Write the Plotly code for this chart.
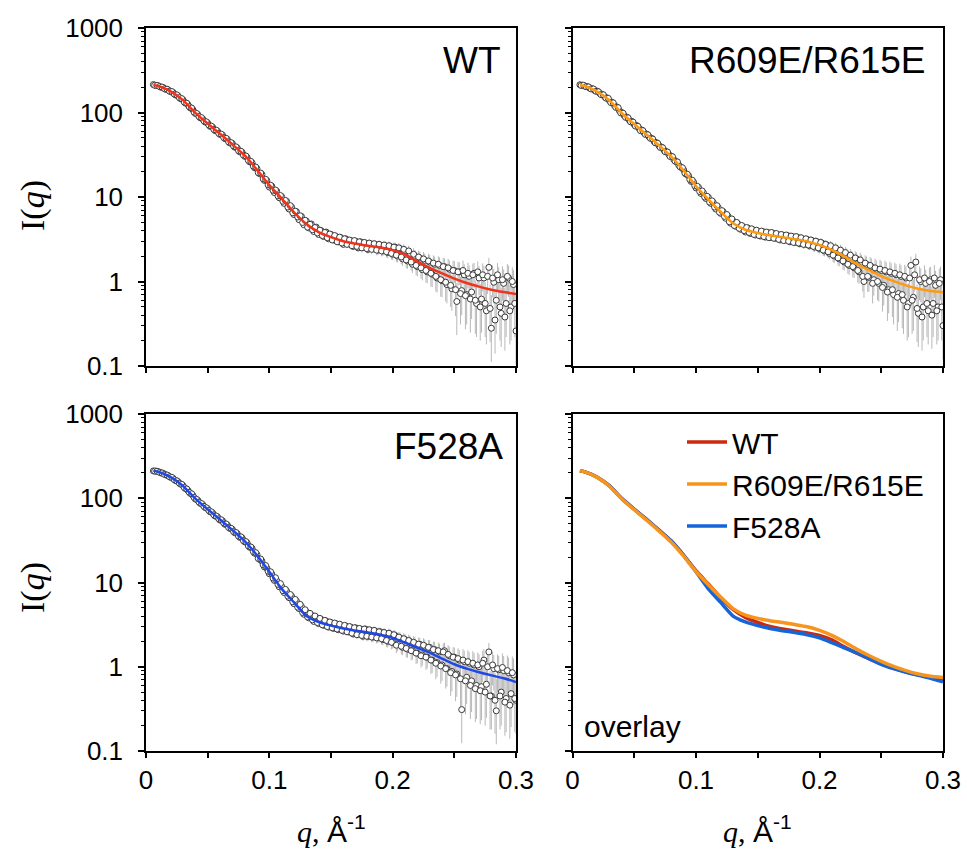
import plotly.graph_objects as go
from plotly.subplots import make_subplots

# ---------------- data ----------------
Q_FIT = [0.006, 0.01, 0.02, 0.03, 0.04, 0.05, 0.06, 0.07, 0.08, 0.09, 0.10,
         0.11, 0.12, 0.13, 0.14, 0.15, 0.16, 0.17, 0.18, 0.19, 0.20,
         0.21, 0.22, 0.23, 0.24, 0.25, 0.26, 0.27, 0.28, 0.29, 0.30]
WT_FIT = [212, 206, 178, 140, 99, 74, 56, 42, 31, 21, 13.8,
          9.6, 6.6, 4.8, 3.85, 3.35, 3.0, 2.8, 2.65, 2.52, 2.35,
          2.08, 1.72, 1.45, 1.25, 1.08, 0.96, 0.87, 0.80, 0.75, 0.71]
R609E_FIT = [212, 206, 177, 139, 98, 73, 55, 41, 30, 20.5, 13.5,
             9.4, 6.7, 4.9, 4.1, 3.75, 3.52, 3.35, 3.17, 2.98, 2.7,
             2.36, 1.98, 1.62, 1.36, 1.16, 1.01, 0.90, 0.82, 0.77, 0.745]
F528A_FIT = [212, 206, 178, 140, 99, 74, 56, 42, 31, 21, 13.4,
             8.4, 5.8, 4.0, 3.4, 3.08, 2.85, 2.68, 2.55, 2.4, 2.2,
             1.93, 1.68, 1.47, 1.25, 1.07, 0.95, 0.86, 0.79, 0.73, 0.66]

# measured points on the even q grid
Q_EVEN = [
    0.006, 0.008, 0.010, 0.012, 0.014, 0.016, 0.018, 0.020, 0.022, 0.024,
    0.026, 0.028, 0.030, 0.032, 0.034, 0.036, 0.038, 0.040, 0.042, 0.044,
    0.046, 0.048, 0.050, 0.052, 0.054, 0.056, 0.058, 0.060, 0.062, 0.064,
    0.066, 0.068, 0.070, 0.072, 0.074, 0.076, 0.078, 0.080, 0.082, 0.084,
    0.086, 0.088, 0.090, 0.092, 0.094, 0.096, 0.098, 0.100, 0.102, 0.104,
    0.106, 0.108, 0.110, 0.112, 0.114, 0.116, 0.118, 0.120, 0.122, 0.124,
    0.126, 0.128, 0.130, 0.132, 0.134, 0.136, 0.138, 0.140, 0.142, 0.144,
    0.146, 0.148, 0.150, 0.152, 0.154, 0.156, 0.158, 0.160, 0.162, 0.164,
    0.166, 0.168, 0.170, 0.172, 0.174, 0.176, 0.178, 0.180, 0.182, 0.184,
    0.186, 0.188, 0.190, 0.192, 0.194, 0.196, 0.198, 0.200, 0.202, 0.204,
    0.206, 0.208, 0.210, 0.212, 0.214, 0.216, 0.218, 0.220, 0.222, 0.224,
    0.226, 0.228, 0.230, 0.232, 0.234, 0.236, 0.238, 0.240, 0.242, 0.244,
    0.246, 0.248, 0.250, 0.252, 0.254, 0.256, 0.258, 0.260, 0.262, 0.264,
    0.266, 0.268, 0.270, 0.272, 0.274, 0.276, 0.278, 0.280, 0.282, 0.284,
    0.286, 0.288, 0.290, 0.292, 0.294, 0.296, 0.298, 0.300]
# measured points on the odd q grid
Q_ODD = [
    0.007, 0.009, 0.011, 0.013, 0.015, 0.017, 0.019, 0.021, 0.023, 0.025,
    0.027, 0.029, 0.031, 0.033, 0.035, 0.037, 0.039, 0.041, 0.043, 0.045,
    0.047, 0.049, 0.051, 0.053, 0.055, 0.057, 0.059, 0.061, 0.063, 0.065,
    0.067, 0.069, 0.071, 0.073, 0.075, 0.077, 0.079, 0.081, 0.083, 0.085,
    0.087, 0.089, 0.091, 0.093, 0.095, 0.097, 0.099, 0.101, 0.103, 0.105,
    0.107, 0.109, 0.111, 0.113, 0.115, 0.117, 0.119, 0.121, 0.123, 0.125,
    0.127, 0.129, 0.131, 0.133, 0.135, 0.137, 0.139, 0.141, 0.143, 0.145,
    0.147, 0.149, 0.151, 0.153, 0.155, 0.157, 0.159, 0.161, 0.163, 0.165,
    0.167, 0.169, 0.171, 0.173, 0.175, 0.177, 0.179, 0.181, 0.183, 0.185,
    0.187, 0.189, 0.191, 0.193, 0.195, 0.197, 0.199, 0.201, 0.203, 0.205,
    0.207, 0.209, 0.211, 0.213, 0.215, 0.217, 0.219, 0.221, 0.223, 0.225,
    0.227, 0.229, 0.231, 0.233, 0.235, 0.237, 0.239, 0.241, 0.243, 0.245,
    0.247, 0.249, 0.251, 0.253, 0.255, 0.257, 0.259, 0.261, 0.263, 0.265,
    0.267, 0.269, 0.271, 0.273, 0.275, 0.277, 0.279, 0.281, 0.283, 0.285,
    0.287, 0.289, 0.291, 0.293, 0.295, 0.297, 0.299]

WT_EVEN = [
    214, 209, 207, 199, 197, 188, 185, 176, 172, 161,
    157, 146, 141, 129, 124, 113, 108, 97.5, 94.5, 86.5,
    84, 77, 75, 68.5, 67, 61, 60, 55, 54, 49,
    48, 43.5, 43, 38.8, 38, 34.2, 33.7, 30.3, 29.4, 26.1,
    25.4, 22.2, 21.6, 18.9, 18.5, 15.7, 15.6, 13.1, 13.4, 11.3,
    11.7, 9.8, 10.1, 8.4, 8.9, 7.2, 7.6, 6.2, 6.7, 5.4,
    5.9, 4.7, 5.2, 4.3, 4.8, 3.9, 4.4, 3.6, 4.0, 3.4,
    3.85, 3.2, 3.6, 3.1, 3.4, 2.95, 3.3, 2.75, 3.2, 2.8,
    3.05, 2.6, 3.0, 2.5, 2.95, 2.55, 2.85, 2.4, 2.8, 2.45,
    2.75, 2.35, 2.7, 2.3, 2.65, 2.2, 2.6, 2.1, 2.55, 2.0,
    2.45, 1.85, 2.3, 1.75, 2.15, 1.6, 2.0, 1.5, 1.9, 1.38,
    1.78, 1.3, 1.7, 1.22, 1.6, 1.1, 1.55, 1.02, 1.5, 0.92,
    1.4, 0.82, 1.35, 0.58, 1.3, 0.78, 1.2, 0.7, 1.15, 0.75,
    1.25, 0.55, 1.1, 0.62, 1.1, 0.45, 1.47, 0.28, 0.98, 0.6,
    1.05, 0.42, 0.95, 0.55, 1.1, 0.5, 0.92, 0.26]
WT_ODD = [
    210, 209, 203, 200, 191, 189, 179, 177, 165, 162,
    150, 146, 133, 129, 117, 113, 101, 97.5, 89.5, 87,
    79.5, 77.5, 71, 69, 63, 61.8, 56.5, 55.5, 50.5, 49.5,
    44.9, 44, 40.1, 39.2, 35.4, 34.8, 31.3, 30.6, 27.1, 26.4,
    23.2, 22.6, 19.4, 19.2, 16.4, 16.2, 13.9, 13.8, 12.0, 12.1,
    10.3, 10.4, 8.9, 9.1, 7.6, 7.9, 6.5, 6.8, 5.8, 6.0,
    5.0, 5.3, 4.4, 4.75, 4.1, 4.35, 3.75, 4.05, 3.5, 3.8,
    3.3, 3.65, 3.1, 3.5, 2.95, 3.35, 2.85, 3.2, 2.75, 3.1,
    2.65, 3.05, 2.6, 2.95, 2.5, 2.9, 2.45, 2.85, 2.4, 2.8,
    2.35, 2.75, 2.3, 2.7, 2.25, 2.65, 2.15, 2.55, 2.05, 2.5,
    1.95, 2.4, 1.8, 2.3, 1.7, 2.1, 1.55, 1.95, 1.45, 1.85,
    1.35, 1.75, 1.25, 1.65, 1.15, 1.6, 1.05, 1.5, 0.98, 1.45,
    0.9, 1.35, 0.8, 1.3, 0.72, 1.35, 0.68, 1.25, 0.62, 1.2,
    0.6, 1.3, 0.5, 1.2, 0.55, 1.15, 0.48, 1.1, 0.35, 1.2,
    0.5, 1.05, 0.38, 1.15, 0.45, 1.0, 0.55]

R609E_EVEN = [
    213, 210, 205, 202, 194, 191, 182, 179, 169, 164,
    154, 149, 138, 132, 121, 116, 105, 99.5, 91.5, 88,
    81, 78.5, 72, 70, 64.5, 62, 57.5, 55.5, 51.5, 49.5,
    45.5, 44, 40.5, 39, 36, 34.4, 31.8, 30.3, 27.8, 26.2,
    23.9, 22.4, 20.9, 18.6, 17.8, 15.3, 15.0, 12.8, 13.0, 11.0,
    11.2, 9.6, 9.9, 8.4, 8.6, 7.2, 7.5, 6.4, 6.7, 5.6,
    5.9, 4.9, 5.2, 4.5, 4.8, 4.15, 4.45, 3.85, 4.3, 3.7,
    4.1, 3.55, 3.95, 3.45, 3.9, 3.35, 3.8, 3.3, 3.75, 3.25,
    3.6, 3.1, 3.55, 3.1, 3.5, 2.95, 3.4, 2.9, 3.35, 2.8,
    3.2, 2.75, 3.15, 2.65, 3.05, 2.55, 2.95, 2.45, 2.85, 2.3,
    2.7, 2.15, 2.55, 2.0, 2.4, 1.85, 2.25, 1.7, 2.1, 1.55,
    1.95, 1.45, 1.85, 1.3, 1.7, 1.0, 1.6, 1.12, 1.5, 1.05,
    1.4, 0.95, 1.35, 0.9, 1.3, 0.8, 1.25, 0.7, 1.2, 0.72,
    1.15, 0.6, 1.1, 0.55, 1.55, 0.65, 1.7, 0.42, 1.0, 0.5,
    0.95, 0.45, 1.05, 0.55, 0.9, 0.5, 1.05, 0.3]
R609E_ODD = [
    209, 210, 202, 201, 190, 190, 178, 176, 163, 162,
    148, 147, 131, 130, 115, 114, 99, 98, 87.5, 86.5,
    77.5, 77, 69, 68.5, 61, 61, 55, 54.5, 49.5, 48.5,
    43.7, 43.2, 38.6, 38.3, 34.3, 34, 30.2, 30, 26.6, 26,
    22.8, 22.2, 19.2, 18.6, 16.1, 15.8, 13.6, 13.4, 11.6, 11.8,
    10.0, 10.2, 8.7, 9.0, 7.6, 7.9, 6.6, 6.9, 5.9, 6.2,
    5.1, 5.5, 4.6, 5.0, 4.25, 4.6, 4.0, 4.35, 3.8, 4.2,
    3.6, 4.05, 3.5, 3.95, 3.4, 3.85, 3.3, 3.8, 3.25, 3.7,
    3.15, 3.6, 3.05, 3.55, 3.0, 3.45, 2.9, 3.4, 2.85, 3.3,
    2.75, 3.2, 2.7, 3.1, 2.6, 3.0, 2.5, 2.9, 2.35, 2.75,
    2.25, 2.65, 2.05, 2.5, 1.9, 2.35, 1.75, 2.2, 1.6, 2.05,
    1.5, 1.9, 1.35, 1.8, 1.15, 1.65, 1.15, 1.55, 0.95, 1.45,
    1.0, 1.4, 0.85, 1.35, 0.75, 1.3, 0.8, 1.25, 0.65, 1.2,
    0.7, 1.15, 0.5, 1.1, 0.6, 1.2, 0.48, 1.05, 0.38, 1.1,
    0.55, 1.0, 0.4, 1.1, 0.45, 0.95, 0.5]

F528A_EVEN = [
    211, 210, 207, 200, 197, 189, 185, 177, 172, 162,
    157, 147, 141, 130, 124, 114, 108, 98, 94.5, 87,
    84, 77.5, 75, 69, 67, 61.5, 60, 55, 54, 49,
    48, 43.8, 42.8, 38.9, 38, 34.3, 33.7, 30.4, 29.5, 26.2,
    25.4, 22.3, 21.4, 18.8, 17.9, 15.3, 14.8, 12.7, 12.6, 10.6,
    10.5, 8.9, 9.0, 7.6, 7.9, 6.6, 6.9, 5.6, 6.0, 4.9,
    5.2, 4.2, 4.5, 3.8, 4.1, 3.45, 3.85, 3.25, 3.65, 3.1,
    3.5, 2.95, 3.35, 2.85, 3.25, 2.75, 3.1, 2.65, 3.05, 2.6,
    2.95, 2.45, 2.9, 2.45, 2.8, 2.3, 2.8, 2.3, 2.7, 2.25,
    2.65, 2.2, 2.6, 2.1, 2.5, 2.0, 2.45, 1.95, 2.35, 1.85,
    2.2, 1.7, 2.1, 1.62, 2.0, 1.55, 1.9, 1.45, 1.85, 1.38,
    1.75, 1.3, 1.7, 1.2, 1.6, 1.12, 1.5, 1.05, 1.55, 0.95,
    1.35, 0.88, 1.3, 0.82, 1.2, 0.31, 1.15, 0.75, 1.1, 0.68,
    1.05, 0.6, 1.0, 0.58, 1.2, 0.62, 1.5, 0.45, 0.95, 0.3,
    0.92, 0.5, 0.9, 0.42, 0.85, 0.48, 0.8, 0.4]
F528A_ODD = [
    210, 209, 203, 200, 192, 189, 180, 177, 166, 161,
    151, 146, 134, 129, 118, 113, 102, 97, 90, 86.5,
    80, 77, 71.5, 69, 63.5, 61.5, 57, 55.5, 51, 49.5,
    45, 44, 40.2, 39.2, 35.5, 34.8, 31.4, 30.6, 27.2, 26.4,
    23.3, 22.6, 19.3, 19.0, 16.2, 15.9, 13.6, 13.4, 11.3, 11.4,
    9.5, 9.7, 8.0, 8.3, 6.9, 7.2, 5.9, 6.3, 5.1, 5.5,
    4.4, 4.75, 3.9, 4.3, 3.6, 4.0, 3.35, 3.75, 3.15, 3.55,
    3.0, 3.4, 2.9, 3.3, 2.8, 3.2, 2.7, 3.1, 2.6, 3.0,
    2.5, 2.9, 2.4, 2.85, 2.35, 2.8, 2.3, 2.75, 2.25, 2.7,
    2.2, 2.6, 2.15, 2.55, 2.05, 2.5, 1.95, 2.4, 1.8, 2.25,
    1.75, 2.15, 1.65, 2.05, 1.55, 1.95, 1.45, 1.85, 1.35, 1.8,
    1.3, 1.7, 1.2, 1.6, 1.1, 1.55, 1.02, 1.5, 0.95, 1.4,
    0.85, 1.3, 0.8, 1.25, 0.72, 1.2, 0.68, 1.15, 0.6, 1.1,
    0.55, 1.05, 0.52, 1.1, 0.5, 1.0, 0.45, 1.05, 0.4, 0.95,
    0.45, 0.98, 0.38, 0.9, 0.35, 0.85, 0.42]

# measurement uncertainty (absolute) on each grid
SIGMA_EVEN = [
    2.0, 2.0, 1.9, 1.9, 1.8, 1.8, 1.7, 1.7, 1.6, 1.5,
    1.5, 1.4, 1.3, 1.3, 1.2, 1.1, 1.0, 1.0, 0.9, 0.85,
    0.8, 0.75, 0.7, 0.65, 0.6, 0.57, 0.54, 0.5, 0.47, 0.45,
    0.42, 0.4, 0.38, 0.36, 0.34, 0.32, 0.3, 0.29, 0.28, 0.27,
    0.26, 0.25, 0.2, 0.22, 0.2, 0.21, 0.19, 0.2, 0.18, 0.19,
    0.17, 0.18, 0.17, 0.18, 0.16, 0.17, 0.16, 0.17, 0.16, 0.17,
    0.16, 0.17, 0.17, 0.17, 0.18, 0.17, 0.19, 0.18, 0.19, 0.18,
    0.21, 0.2, 0.22, 0.21, 0.23, 0.22, 0.24, 0.23, 0.25, 0.24,
    0.26, 0.25, 0.27, 0.26, 0.27, 0.26, 0.28, 0.27, 0.29, 0.28,
    0.3, 0.29, 0.31, 0.3, 0.32, 0.31, 0.32, 0.31, 0.33, 0.32,
    0.34, 0.33, 0.35, 0.34, 0.35, 0.34, 0.36, 0.35, 0.36, 0.35,
    0.36, 0.35, 0.37, 0.36, 0.37, 0.36, 0.38, 0.37, 0.38, 0.37,
    0.38, 0.37, 0.39, 0.38, 0.39, 0.38, 0.4, 0.39, 0.4, 0.39,
    0.41, 0.4, 0.41, 0.4, 0.42, 0.41, 0.42, 0.41, 0.43, 0.42,
    0.43, 0.42, 0.44, 0.43, 0.44, 0.43, 0.45, 0.45]
SIGMA_ODD = [
    2.0, 1.9, 1.9, 1.8, 1.8, 1.7, 1.7, 1.6, 1.6, 1.5,
    1.4, 1.4, 1.3, 1.2, 1.1, 1.1, 1.0, 0.95, 0.9, 0.8,
    0.78, 0.72, 0.68, 0.62, 0.58, 0.55, 0.52, 0.48, 0.46, 0.43,
    0.41, 0.39, 0.37, 0.35, 0.33, 0.31, 0.3, 0.28, 0.27, 0.26,
    0.25, 0.21, 0.21, 0.2, 0.2, 0.19, 0.19, 0.19, 0.18, 0.18,
    0.18, 0.17, 0.17, 0.17, 0.16, 0.16, 0.16, 0.16, 0.17, 0.16,
    0.17, 0.17, 0.18, 0.17, 0.18, 0.18, 0.19, 0.19, 0.2, 0.2,
    0.21, 0.22, 0.22, 0.23, 0.23, 0.24, 0.24, 0.25, 0.25, 0.26,
    0.26, 0.27, 0.27, 0.28, 0.28, 0.29, 0.29, 0.3, 0.3, 0.31,
    0.31, 0.32, 0.32, 0.33, 0.33, 0.34, 0.34, 0.35, 0.35, 0.35,
    0.35, 0.36, 0.36, 0.36, 0.36, 0.37, 0.37, 0.37, 0.37, 0.38,
    0.38, 0.38, 0.38, 0.39, 0.39, 0.39, 0.39, 0.4, 0.4, 0.4,
    0.4, 0.41, 0.41, 0.41, 0.41, 0.42, 0.42, 0.42, 0.42, 0.43,
    0.43, 0.43, 0.43, 0.44, 0.44, 0.44, 0.44, 0.45, 0.45, 0.45,
    0.45, 0.46, 0.46, 0.46, 0.46, 0.47, 0.47]

Q_ALL = Q_EVEN + Q_ODD
SIGMA_ALL = SIGMA_EVEN + SIGMA_ODD

PANELS = [
    ("WT", WT_EVEN + WT_ODD, WT_FIT, "#f2321b", 1, 1),
    ("R609E/R615E", R609E_EVEN + R609E_ODD, R609E_FIT, "#ff9a10", 1, 2),
    ("F528A", F528A_EVEN + F528A_ODD, F528A_FIT, "#1f48e6", 2, 1),
]
OVERLAY = [
    ("WT", WT_FIT, "#cc2a0e", 1),
    ("F528A", F528A_FIT, "#1565d8", 3),
    ("R609E/R615E", R609E_FIT, "#f7941d", 2),
]

Y_TICKS = [0.1, 1, 10, 100, 1000]
Y_TICKTEXT = ["0.1", "1", "10", "100", "1000"]
X_TICKS = [0, 0.1, 0.2, 0.3]
X_TICKTEXT = ["0", "0.1", "0.2", "0.3"]
X_MINOR = [0.05, 0.15, 0.25]

# ---------------- figure ----------------
W, H = 967, 852
fig = make_subplots(rows=2, cols=2)

for name, data, fitv, col, r, c in PANELS:
    # log axis cannot show negative lower bounds: cap the lower whisker
    minus = [min(s, 0.6 * v) for s, v in zip(SIGMA_ALL, data)]
    fig.add_trace(go.Scatter(
        x=Q_ALL, y=data, mode="markers", showlegend=False,
        marker=dict(symbol="circle", size=6, color="white",
                    line=dict(color="#3a3a3a", width=1)),
        error_y=dict(type="data", array=SIGMA_ALL, arrayminus=minus,
                     color="#b8b8b8", thickness=1, width=0),
    ), row=r, col=c)
    fig.add_trace(go.Scatter(
        x=Q_FIT, y=fitv, mode="lines", showlegend=False,
        line=dict(color=col, width=2.5, shape="spline", smoothing=0.5),
    ), row=r, col=c)

for name, fitv, col, rank in OVERLAY:
    fig.add_trace(go.Scatter(
        x=Q_FIT, y=fitv, mode="lines", name=name, legendrank=rank,
        line=dict(color=col, width=3.5, shape="spline", smoothing=0.5),
    ), row=2, col=2)

xdom = {1: [146 / W, 516 / W], 2: [572.5 / W, 943 / W]}
ydom = {1: [(H - 366) / H, (H - 28) / H], 2: [(H - 751) / H, (H - 414) / H]}

minor_vals = [k * 10 ** e for e in range(-1, 3) for k in range(2, 10)]
axis_font = dict(family="Liberation Sans, Arial", size=26, color="black")

for r in (1, 2):
    for c in (1, 2):
        fig.update_xaxes(
            row=r, col=c, domain=xdom[c], range=[0, 0.3], automargin=False,
            showline=True, linecolor="black", linewidth=1.5, mirror=True,
            showgrid=False, zeroline=False,
            tickmode="array", tickvals=X_TICKS, ticktext=X_TICKTEXT,
            ticks="outside", ticklen=5, tickwidth=1.5, tickcolor="black",
            minor=dict(tickmode="array", tickvals=X_MINOR, ticks="outside",
                       ticklen=5, tickwidth=1.5, tickcolor="black", showgrid=False),
            showticklabels=(r == 2), tickfont=axis_font, ticklabelstandoff=0,
        )
        fig.update_yaxes(
            row=r, col=c, domain=ydom[r], type="log", range=[-1, 3], automargin=False,
            showline=True, linecolor="black", linewidth=1.5, mirror=True,
            showgrid=False, zeroline=False,
            tickmode="array", tickvals=Y_TICKS, ticktext=Y_TICKTEXT,
            ticks="outside", ticklen=6, tickwidth=1.5, tickcolor="black",
            minor=dict(tickmode="array", tickvals=minor_vals, ticks="outside",
                       ticklen=3, tickwidth=1, tickcolor="black", showgrid=False),
            showticklabels=(c == 1), tickfont=axis_font, ticklabelstandoff=10,
        )

annots = []
# panel labels
for txt, xr, yc in [("WT", 503, 60), ("R609E/R615E", 928, 60), ("F528A", 505, 446)]:
    annots.append(dict(text=txt, x=xr / W, y=(H - yc) / H, xref="paper", yref="paper",
                       xanchor="right", yanchor="middle", showarrow=False,
                       font=dict(family="Liberation Sans, Arial", size=37, color="black")))
annots.append(dict(text="overlay", x=582 / W, y=(H - 726) / H, xref="paper", yref="paper",
                   xanchor="left", yanchor="middle", showarrow=False,
                   font=dict(family="Liberation Sans, Arial", size=30, color="black")))
# axis titles
for yc in (206, 588):
    annots.append(dict(text="I(<i>q</i>)", x=33 / W, y=(H - yc) / H, xref="paper", yref="paper",
                       xanchor="center", yanchor="middle", textangle=-90, showarrow=False,
                       font=dict(family="Liberation Serif, Times New Roman", size=34, color="black")))
for xc in (331, 757):
    annots.append(dict(
        text='<i>q</i>, <span style="font-family:Liberation Sans, Arial">Å<sup>-1</sup></span>',
        x=xc / W, y=(H - 829) / H, xref="paper", yref="paper",
        xanchor="center", yanchor="middle", showarrow=False,
        font=dict(family="Liberation Serif, Times New Roman", size=30, color="black")))

fig.update_layout(
    width=W, height=H,
    margin=dict(l=0, r=0, t=0, b=0, autoexpand=False),
    paper_bgcolor="white", plot_bgcolor="white",
    annotations=annots,
    showlegend=True,
    legend=dict(x=682 / W, y=(H - 416) / H, xanchor="left", yanchor="top",
                bgcolor="rgba(0,0,0,0)", borderwidth=0,
                font=dict(family="Liberation Sans, Arial", size=30, color="black"),
                tracegroupgap=0, itemwidth=40),
)

# the page's default 8px body margin would shift the whole figure; remove it
fig.write_html("out.html", config={"displayModeBar": False},
               post_script="document.body.style.margin='0';")
